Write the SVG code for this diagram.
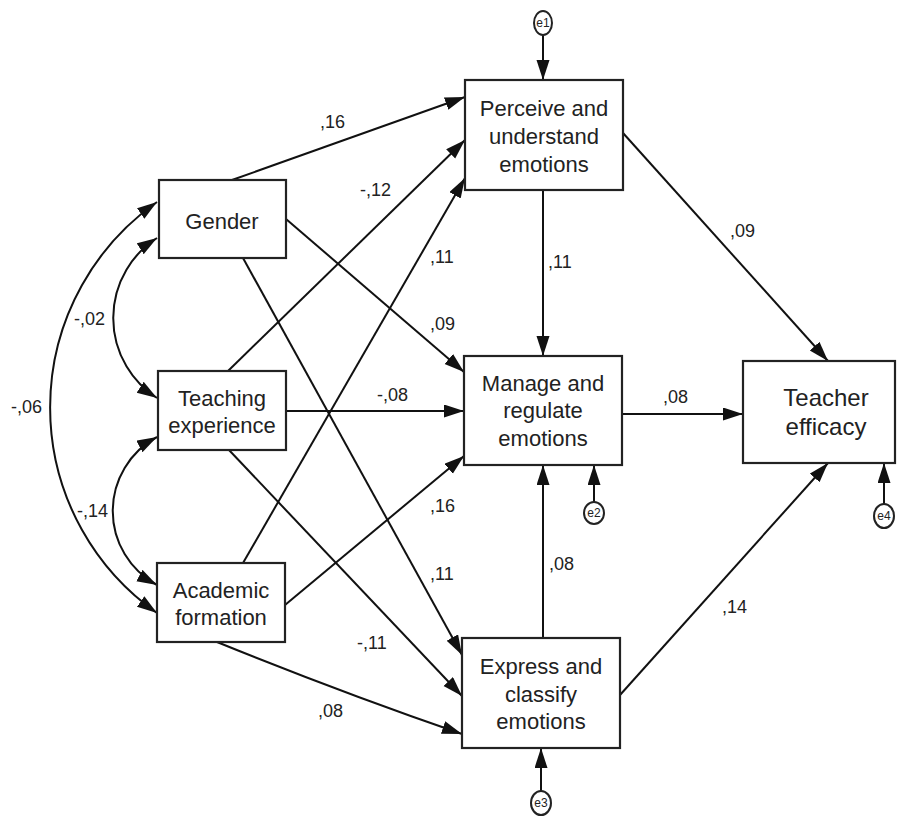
<svg xmlns="http://www.w3.org/2000/svg" width="897" height="821" viewBox="0 0 897 821">
<defs>
<marker id="ah" markerUnits="userSpaceOnUse" markerWidth="22" markerHeight="14" refX="20" refY="6.5" orient="auto-start-reverse">
<path d="M0,0 L20,6.5 L0,13 z" fill="#111"/>
</marker>
</defs>
<style>
.box{fill:#fff;stroke:#222;stroke-width:2.2}
.lbl{font-family:"Liberation Sans",Arial,sans-serif;font-size:22px;fill:#222;text-anchor:middle}
.big{font-size:24px}
.w{font-family:"Liberation Sans",Arial,sans-serif;font-size:18px;fill:#222}
.e{font-family:"Liberation Sans",Arial,sans-serif;font-size:12px;fill:#222;text-anchor:middle}
.ell{fill:#fff;stroke:#222;stroke-width:2}
.c{fill:none;stroke:#111;stroke-width:2;marker-end:url(#ah)}
.d{fill:none;stroke:#111;stroke-width:2;marker-end:url(#ah);marker-start:url(#ah)}
</style>
<rect width="897" height="821" fill="#fff"/>
<g id="connectors">
<line class="c" x1="232" y1="180" x2="465" y2="97"/>
<line class="c" x1="228" y1="371" x2="465" y2="140"/>
<line class="c" x1="243" y1="563" x2="465" y2="178"/>
<line class="c" x1="286" y1="219" x2="464" y2="372"/>
<line class="c" x1="286" y1="411" x2="464" y2="411"/>
<line class="c" x1="285" y1="605" x2="464" y2="456"/>
<line class="c" x1="243" y1="258" x2="462" y2="655"/>
<line class="c" x1="229" y1="450" x2="462" y2="696"/>
<path class="c" d="M217,642 Q340,692 462,734"/>
<line class="c" x1="543" y1="190" x2="543" y2="356"/>
<line class="c" x1="623" y1="133" x2="828" y2="361"/>
<line class="c" x1="622" y1="414" x2="743" y2="414"/>
<line class="c" x1="543" y1="638" x2="543" y2="465"/>
<line class="c" x1="620" y1="695" x2="828" y2="463"/>
<line class="c" x1="543" y1="35" x2="543" y2="80"/>
<line class="c" x1="594" y1="502" x2="594" y2="465"/>
<line class="c" x1="541" y1="791" x2="541" y2="748"/>
<line class="c" x1="884" y1="504" x2="884" y2="463"/>
<path class="d" d="M157,238 A95,95 0 0,0 157,398"/>
<path class="d" d="M157,437 A84,84 0 0,0 157,585"/>
<path class="d" d="M157,202 A251,251 0 0,0 157,613"/>
</g>
<g id="weights">
<text class="w" x="320" y="128">,16</text>
<text class="w" x="360" y="196">-,12</text>
<text class="w" x="430" y="263">,11</text>
<text class="w" x="430" y="330">,09</text>
<text class="w" x="377" y="401">-,08</text>
<text class="w" x="430" y="512">,16</text>
<text class="w" x="430" y="580">,11</text>
<text class="w" x="357" y="649">-,11</text>
<text class="w" x="318" y="717">,08</text>
<text class="w" x="548" y="268">,11</text>
<text class="w" x="730" y="237">,09</text>
<text class="w" x="663" y="403">,08</text>
<text class="w" x="549" y="570">,08</text>
<text class="w" x="722" y="613">,14</text>
<text class="w" x="74" y="325">-,02</text>
<text class="w" x="11" y="413">-,06</text>
<text class="w" x="77" y="517">-,14</text>
</g>
<g id="gender"><rect class="box" x="159" y="180" width="127" height="78"/><text class="lbl" x="222" y="229">Gender</text></g>
<g id="teaching"><rect class="box" x="158" y="371" width="128" height="79"/><text class="lbl" x="222" y="406">Teaching</text><text class="lbl" x="222" y="433">experience</text></g>
<g id="academic"><rect class="box" x="157" y="563" width="128" height="79"/><text class="lbl" x="221" y="598">Academic</text><text class="lbl" x="221" y="625">formation</text></g>
<g id="perceive"><rect class="box" x="465" y="80" width="158" height="110"/><text class="lbl" x="544" y="116">Perceive and</text><text class="lbl" x="544" y="144">understand</text><text class="lbl" x="544" y="172">emotions</text></g>
<g id="manage"><rect class="box" x="464" y="356" width="158" height="109"/><text class="lbl" x="543" y="391">Manage and</text><text class="lbl" x="543" y="418">regulate</text><text class="lbl" x="543" y="446">emotions</text></g>
<g id="express"><rect class="box" x="462" y="638" width="158" height="110"/><text class="lbl" x="541" y="674">Express and</text><text class="lbl" x="541" y="702">classify</text><text class="lbl" x="541" y="729">emotions</text></g>
<g id="efficacy"><rect class="box" x="743" y="361" width="152" height="102"/><text class="lbl big" x="826" y="406">Teacher</text><text class="lbl big" x="826" y="435">efficacy</text></g>
<g id="e1"><ellipse class="ell" cx="543" cy="23" rx="9" ry="12"/><text class="e" x="543" y="27">e1</text></g>
<g id="e2"><ellipse class="ell" cx="594" cy="513" rx="10" ry="11"/><text class="e" x="594" y="517">e2</text></g>
<g id="e3"><ellipse class="ell" cx="541" cy="803" rx="10" ry="12"/><text class="e" x="541" y="807">e3</text></g>
<g id="e4"><ellipse class="ell" cx="884" cy="516" rx="10" ry="12"/><text class="e" x="884" y="520">e4</text></g>
</svg>
